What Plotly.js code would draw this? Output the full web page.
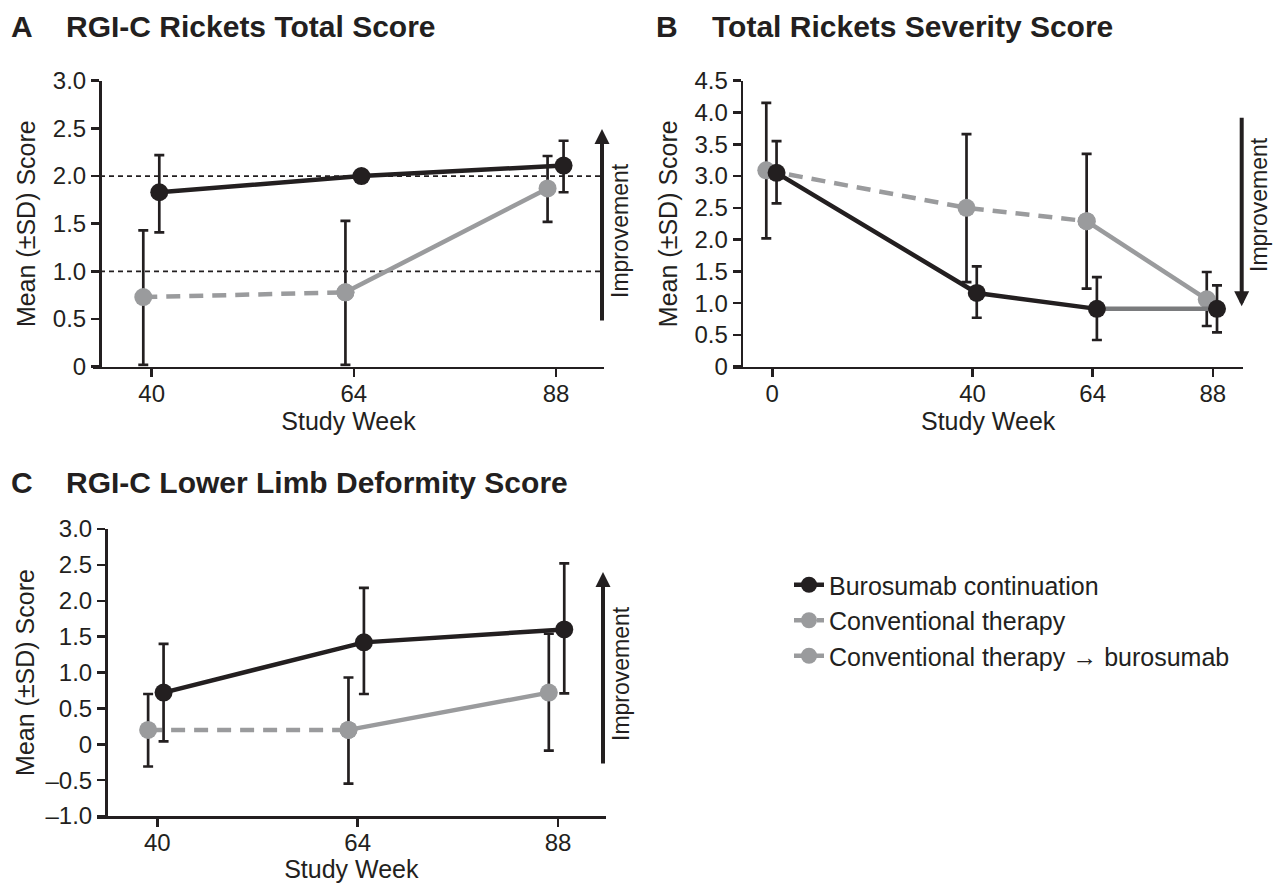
<!DOCTYPE html>
<html>
<head>
<meta charset="utf-8">
<script src="https://cdn.plot.ly/plotly-3.0.1.min.js"></script>
<style>html,body{margin:0;padding:0;background:#fff;}#chart{width:1274px;height:883px;}</style>
</head>
<body>
<div id="chart"></div>
<script>
// ---------- DATA ----------
const seriesNames = ['Burosumab continuation', 'Conventional therapy', 'Conventional therapy \u2192 burosumab'];

// Panel A: RGI-C Rickets Total Score
const weeksA_buro = [40, 64, 88];
const meanA_buro  = [1.83, 2.00, 2.11];
const loA_buro    = [1.41, 2.00, 1.83];
const hiA_buro    = [2.22, 2.00, 2.37];
const weeksA_conv = [40, 64];
const meanA_conv  = [0.73, 0.78];
const loA_conv    = [0.02, 0.02];
const hiA_conv    = [1.43, 1.53];
const weeksA_cb   = [64, 88];
const meanA_cb    = [0.78, 1.87];
const loA_cb      = [null, 1.52];
const hiA_cb      = [null, 2.21];
const refLinesA   = [1.0, 2.0];

// Panel B: Total Rickets Severity Score
const weeksB_buro = [0, 40, 64, 88];
const meanB_buro  = [3.05, 1.16, 0.91, 0.91];
const loB_buro    = [2.57, 0.77, 0.42, 0.54];
const hiB_buro    = [3.55, 1.58, 1.41, 1.28];
const weeksB_conv = [0, 40, 64];
const meanB_conv  = [3.09, 2.50, 2.29];
const loB_conv    = [2.02, 1.33, 1.23];
const hiB_conv    = [4.15, 3.66, 3.35];
const weeksB_cb   = [64, 88];
const meanB_cb    = [2.29, 1.06];
const loB_cb      = [null, 0.64];
const hiB_cb      = [null, 1.49];

// Panel C: RGI-C Lower Limb Deformity Score
const weeksC_buro = [40, 64, 88];
const meanC_buro  = [0.72, 1.42, 1.60];
const loC_buro    = [0.04, 0.70, 0.71];
const hiC_buro    = [1.40, 2.18, 2.52];
const weeksC_conv = [40, 64];
const meanC_conv  = [0.20, 0.20];
const loC_conv    = [-0.31, -0.55];
const hiC_conv    = [0.70, 0.93];
const weeksC_cb   = [64, 88];
const meanC_cb    = [0.20, 0.72];
const loC_cb      = [null, -0.09];
const hiC_cb      = [null, 1.54];

// Tick labels
const xTicksAC = [40, 64, 88];
const xTicksB  = [0, 40, 64, 88];
const yTicksA  = [0, 0.5, 1.0, 1.5, 2.0, 2.5, 3.0];
const yTextA   = ['0', '0.5', '1.0', '1.5', '2.0', '2.5', '3.0'];
const yTicksB  = [0, 0.5, 1.0, 1.5, 2.0, 2.5, 3.0, 3.5, 4.0, 4.5];
const yTextB   = ['0', '0.5', '1.0', '1.5', '2.0', '2.5', '3.0', '3.5', '4.0', '4.5'];
const yTicksC  = [-1.0, -0.5, 0, 0.5, 1.0, 1.5, 2.0, 2.5, 3.0];
const yTextC   = ['\u20131.0', '\u20130.5', '0', '0.5', '1.0', '1.5', '2.0', '2.5', '3.0'];

// ---------- STYLE ----------
const FONT = '"Liberation Sans", Arial, Helvetica, sans-serif';
const INK = '#231f20';
const GREY = '#9a9b9d';
const TAILGREY = '#7a7b7d';
const W = 1274, H = 883;
// horizontal dodge (weeks) so overlapping groups are separated
const dodge = { A: { b: 0.9, g: -1.0 }, B: { b: 0.85, g: -1.2 }, C: { b: 0.75, g: -1.1 } };

function shift(arr, d) { return arr.map(v => v + d); }
function errBar(mean, lo, hi) {
  return {
    type: 'data', symmetric: false,
    array: hi.map((h, i) => h == null ? NaN : h - mean[i]),
    arrayminus: lo.map((l, i) => l == null ? NaN : mean[i] - l),
    color: INK, thickness: 2.7, width: 5
  };
}
function convTrace(x, y, lo, hi, xa, ya, legend) {
  return { x, y, xaxis: xa, yaxis: ya, mode: 'lines+markers', name: seriesNames[1],
    legendgroup: 'g2', legendrank: 2, showlegend: legend,
    line: { color: GREY, width: 4.5, dash: '14px,9px' },
    marker: { color: GREY, size: 18 }, error_y: errBar(y, lo, hi), hoverinfo: 'x+y' };
}
function cbTrace(x, y, lo, hi, xa, ya, legend) {
  return { x, y, xaxis: xa, yaxis: ya, mode: 'lines+markers', name: seriesNames[2],
    legendgroup: 'g3', legendrank: 3, showlegend: legend,
    line: { color: GREY, width: 4.5 },
    marker: { color: GREY, size: 18 }, error_y: errBar(y, lo, hi), hoverinfo: 'x+y' };
}
function buroTrace(x, y, lo, hi, xa, ya, legend, mode) {
  return { x, y, xaxis: xa, yaxis: ya, mode: mode || 'lines+markers', name: seriesNames[0],
    legendgroup: 'g1', legendrank: 1, showlegend: legend,
    line: { color: INK, width: 4.5 },
    marker: { color: INK, size: 18 }, error_y: errBar(y, lo, hi), hoverinfo: 'x+y' };
}

const traces = [
  // Panel A
  convTrace(shift(weeksA_conv, dodge.A.g), meanA_conv, loA_conv, hiA_conv, 'x', 'y', true),
  cbTrace(shift(weeksA_cb, dodge.A.g), meanA_cb, loA_cb, hiA_cb, 'x', 'y', true),
  buroTrace(shift(weeksA_buro, dodge.A.b), meanA_buro, loA_buro, hiA_buro, 'x', 'y', true),
  // Panel B
  convTrace(shift(weeksB_conv, dodge.B.g), meanB_conv, loB_conv, hiB_conv, 'x2', 'y2', false),
  cbTrace(shift(weeksB_cb, dodge.B.g), meanB_cb, loB_cb, hiB_cb, 'x2', 'y2', false),
  { x: shift(weeksB_buro.slice(0, 3), dodge.B.b), y: meanB_buro.slice(0, 3), xaxis: 'x2', yaxis: 'y2',
    mode: 'lines', line: { color: INK, width: 4.5 }, showlegend: false, legendgroup: 'g1', hoverinfo: 'skip' },
  { x: shift(weeksB_buro.slice(2), dodge.B.b), y: meanB_buro.slice(2), xaxis: 'x2', yaxis: 'y2',
    mode: 'lines', line: { color: TAILGREY, width: 4.5 }, showlegend: false, legendgroup: 'g1', hoverinfo: 'skip' },
  buroTrace(shift(weeksB_buro, dodge.B.b), meanB_buro, loB_buro, hiB_buro, 'x2', 'y2', false, 'markers'),
  // Panel C
  convTrace(shift(weeksC_conv, dodge.C.g), meanC_conv, loC_conv, hiC_conv, 'x3', 'y3', false),
  cbTrace(shift(weeksC_cb, dodge.C.g), meanC_cb, loC_cb, hiC_cb, 'x3', 'y3', false),
  buroTrace(shift(weeksC_buro, dodge.C.b), meanC_buro, loC_buro, hiC_buro, 'x3', 'y3', false)
];

// ---------- LAYOUT ----------
const px = v => v / W;
const py = v => 1 - v / H;
const tickFont = { family: FONT, size: 24, color: INK };
const axTitleFont = { family: FONT, size: 25, color: INK };
function xAxis(dom, range, vals, yname) {
  return { domain: [px(dom[0]), px(dom[1])], range, anchor: yname, tickvals: vals,
    ticktext: vals.map(String), showline: true, linewidth: 2.5, linecolor: INK,
    ticks: 'outside', ticklen: 8, tickwidth: 2.5, tickcolor: INK, showgrid: false,
    zeroline: false, tickfont: tickFont, fixedrange: true, ticklabelstandoff: -4,
    title: { text: 'Study Week', font: axTitleFont, standoff: 0 } };
}
function yAxis(dom, range, vals, text, pos, standoff) {
  return { domain: [py(dom[1]), py(dom[0])], range, anchor: 'free', position: px(pos),
    tickvals: vals, ticktext: text, showline: true, linewidth: 2.5, linecolor: INK,
    ticks: 'outside', ticklen: 8, tickwidth: 2.5, tickcolor: INK, showgrid: false,
    zeroline: false, tickfont: tickFont, fixedrange: true,
    title: { text: 'Mean (\u00b1SD) Score', font: axTitleFont, standoff } };
}

const titleFont = { family: FONT, size: 30, color: INK, weight: 'bold' };
function label(x, y, text) {
  return { xref: 'paper', yref: 'paper', x: px(x), y: py(y), xanchor: 'left', yanchor: 'middle',
    text: '<b>' + text + '</b>', showarrow: false, font: titleFont };
}
function improve(x, y) {
  return { xref: 'paper', yref: 'paper', x: px(x), y: py(y), xanchor: 'center', yanchor: 'middle',
    text: 'Improvement', textangle: -90, showarrow: false, font: { family: FONT, size: 23, color: INK } };
}
function arrow(x, yHead, yTail) {
  return { xref: 'paper', yref: 'paper', x: px(x), y: py(yHead), ax: 0, ay: yTail - yHead,
    axref: 'pixel', ayref: 'pixel', text: '', showarrow: true, arrowhead: 2, arrowsize: 0.75,
    arrowwidth: 4, arrowcolor: INK };
}

const layout = {
  width: W, height: H, margin: { l: 0, r: 0, t: 0, b: 0 },
  paper_bgcolor: '#ffffff', plot_bgcolor: 'rgba(0,0,0,0)',
  font: { family: FONT, color: INK },
  showlegend: true,
  legend: { x: px(789), y: py(562), xanchor: 'left', yanchor: 'top', traceorder: 'grouped',
    tracegroupgap: 0, font: { family: FONT, size: 25, color: INK }, bgcolor: 'rgba(0,0,0,0)' },
  xaxis:  xAxis([93, 604], [33.03, 93.7], xTicksAC, 'y'),
  yaxis:  yAxis([80.7, 366.7], [0, 3.0], yTicksA, yTextA, 100, 9),
  xaxis2: xAxis([733, 1243.3], [-7.85, 94.1], xTicksB, 'y2'),
  yaxis2: yAxis([80.7, 366.7], [0, 4.5], yTicksB, yTextB, 741.7, 9),
  xaxis3: xAxis([96.7, 606], [32.74, 93.75], xTicksAC, 'y3'),
  yaxis3: yAxis([529, 816], [-1.0, 3.0], yTicksC, yTextC, 106, 2),
  shapes: refLinesA.map(v => ({ type: 'line', layer: 'below', xref: 'paper', yref: 'y',
    x0: px(100), x1: px(604), y0: v, y1: v, line: { color: INK, width: 1.8, dash: '5px,4px' } })),
  annotations: [
    label(9, 27, 'A'), label(64, 27, 'RGI-C Rickets Total Score'),
    label(654, 27, 'B'), label(710, 27, 'Total Rickets Severity Score'),
    label(9, 482, 'C'), label(64, 482, 'RGI-C Lower Limb Deformity Score'),
    arrow(602, 129, 322), improve(620, 231),
    arrow(1241.7, 306.3, 116.3), improve(1259, 205),
    arrow(603, 572, 765), improve(621, 674)
  ]
};

Plotly.newPlot('chart', traces, layout, { displayModeBar: false, staticPlot: true });
</script>
</body>
</html>
